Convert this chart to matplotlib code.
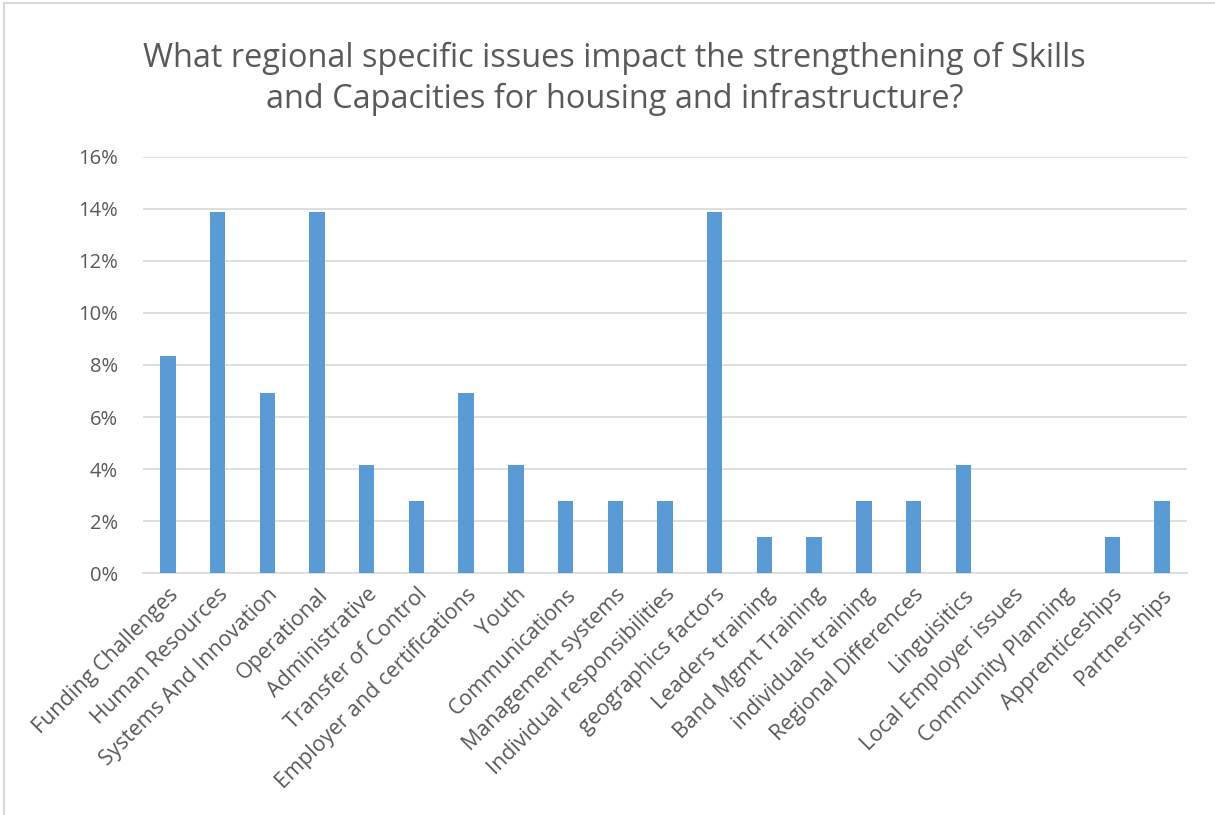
import numpy as np
import matplotlib.pyplot as plt
from matplotlib.ticker import PercentFormatter

# survey responses, share of all answers
categories = ['Funding Challenges', 'Human Resources', 'Systems And Innovation',
              'Operational', 'Administrative', 'Transfer of Control',
              'Employer and certifications', 'Youth', 'Communications',
              'Management systems', 'Individual responsibilities',
              'geographics factors', 'Leaders training', 'Band Mgmt Training',
              'individuals training', 'Regional Differences', 'Linguisitics',
              'Local Employer issues', 'Community Planning', 'Apprenticeships',
              'Partnerships']
shares = [8.33, 13.89, 6.94, 13.89, 4.17, 2.78, 6.94, 4.17, 2.78, 2.78, 2.78,
          13.89, 1.39, 1.39, 2.78, 2.78, 4.17, 0.0, 0.0, 1.39, 2.78]

txt = '#595959'
plt.rcParams['font.family'] = ['Open Sans', 'DejaVu Sans']

fig = plt.figure(figsize=(12.15, 8.15), dpi=100)
ax = fig.add_axes([0.1177, 0.2969, 0.8593, 0.5105])

x = np.arange(len(categories))
ax.bar(x, shares, width=0.31, color='#5b9bd5', zorder=3)

ax.set_xlim(-0.5, len(categories) - 0.5)
ax.set_ylim(0, 16)
ax.set_yticks(np.arange(0, 17, 2))
ax.yaxis.set_major_formatter(PercentFormatter(decimals=0))
ax.grid(axis='y', color='#d9d9d9', lw=1.2, zorder=0)
for s in ['top', 'right', 'left']:
    ax.spines[s].set_visible(False)
ax.spines['bottom'].set_color('#d9d9d9')
ax.spines['bottom'].set_linewidth(1.2)

ax.set_xticks(x)
ax.set_xticklabels(categories, rotation=45, ha='right', rotation_mode='anchor',
                   fontsize=15.5, color=txt)
ax.tick_params(axis='x', length=0, pad=8)
ax.tick_params(axis='y', length=0, pad=18, labelsize=14.5, labelcolor=txt)

fig.text(0.506, 0.903, 'What regional specific issues impact the strengthening of Skills\n'
         'and Capacities for housing and infrastructure?',
         ha='center', va='center', fontsize=23.4, color=txt, linespacing=1.3)

# thin frame round the chart
fig.add_artist(plt.Line2D([0.003, 0.003], [0.0, 0.996], color='#d9d9d9', lw=1.5))
fig.add_artist(plt.Line2D([0.003, 1.0], [0.996, 0.996], color='#d9d9d9', lw=1.5))

fig.savefig('out.png', dpi=100)
